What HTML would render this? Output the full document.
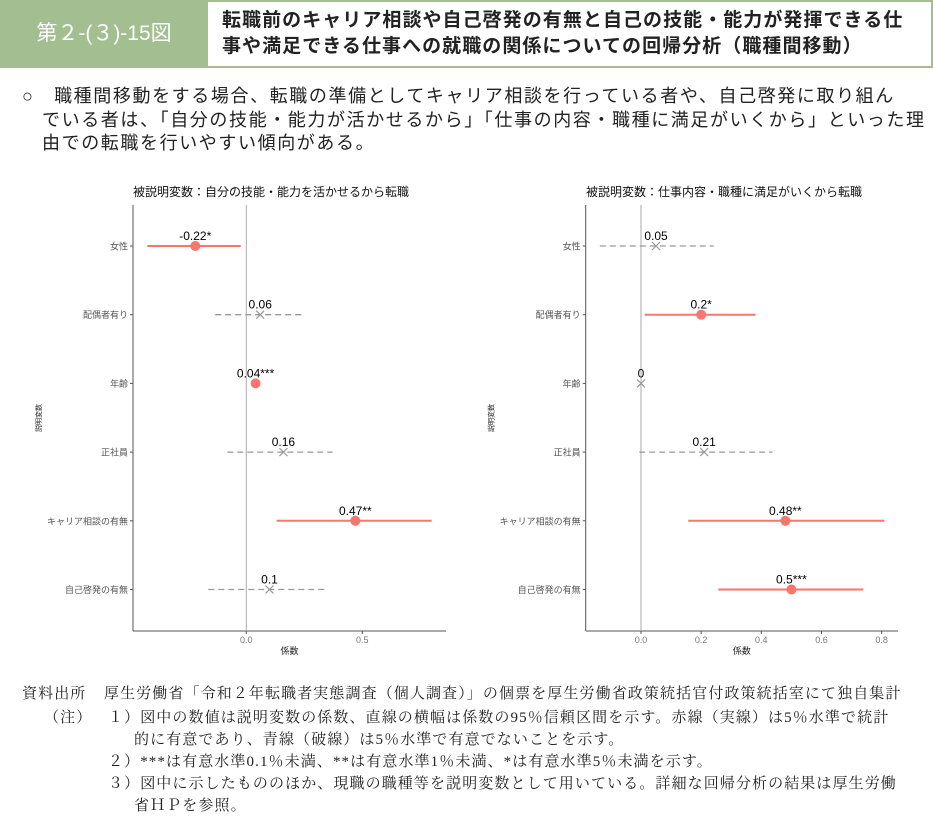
<!DOCTYPE html>
<html><head><meta charset="utf-8">
<style>
body{margin:0;width:933px;height:831px;background:#fff;position:relative;overflow:hidden;font-family:"Liberation Sans","Noto Sans CJK JP",sans-serif;color:#222}
.abs{position:absolute}
#hdr-box{left:0;top:0;width:208px;height:68px;background:#a3bf92;color:#fff;font-size:21px;line-height:68px;text-align:center}
#hdr-title{left:208px;top:0;border:2px solid #a3bf92;border-left:none;box-sizing:border-box;width:725px;height:68px;font-size:19px;font-weight:bold;line-height:26px;padding:6px 0 0 14px;color:#222;letter-spacing:1.05px;white-space:nowrap}
.body{left:22px;font-size:18px;line-height:23.5px;letter-spacing:1.6px;white-space:nowrap}
.foot{font-family:"Liberation Serif","Noto Serif CJK JP",serif;font-size:15px;line-height:22px;left:0;top:683px;width:933px;letter-spacing:1.1px}
.foot div{position:absolute;white-space:nowrap}
</style></head><body>
<div id="hdr-box" class="abs">第２-(３)-15図</div>
<div id="hdr-title" class="abs">転職前のキャリア相談や自己啓発の有無と自己の技能・能力が発揮できる仕<br>事や満足できる仕事への就職の関係についての回帰分析（職種間移動）</div>
<div class="abs body" style="top:85px;width:900px">○　職種間移動をする場合、転職の準備としてキャリア相談を行っている者や、自己啓発に取り組ん<br><span style="padding-left:20px">でいる者は、「自分の技能・能力が活かせるから」「仕事の内容・職種に満足がいくから」といった理</span><br><span style="padding-left:20px">由での転職を行いやすい傾向がある。</span></div>

<svg class="abs" style="left:0;top:0" width="933" height="680" id="charts"></svg>

<div class="abs foot">
<div style="left:22px;top:0">資料出所</div><div style="left:104px;top:0">厚生労働省「令和２年転職者実態調査（個人調査）」の個票を厚生労働省政策統括官付政策統括室にて独自集計</div>
<div style="left:44px;top:24px">（注）</div><div style="left:108px;top:24px">１）図中の数値は説明変数の係数、直線の横幅は係数の95％信頼区間を示す。赤線（実線）は5％水準で統計</div>
<div style="left:134px;top:46px">的に有意であり、青線（破線）は5％水準で有意でないことを示す。</div>
<div style="left:108px;top:68px">２）***は有意水準0.1％未満、**は有意水準1％未満、*は有意水準5％未満を示す。</div>
<div style="left:108px;top:90px">３）図中に示したもののほか、現職の職種等を説明変数として用いている。詳細な回帰分析の結果は厚生労働</div>
<div style="left:134px;top:112px">省ＨＰを参照。</div>
</div>

<script>
const categories=["女性","配偶者有り","年齢","正社員","キャリア相談の有無","自己啓発の有無"];
const leftCoef=[-0.22,0.06,0.04,0.16,0.47,0.1];
const leftLo=[-0.427,-0.134,0.03,-0.082,0.131,-0.164];
const leftHi=[-0.024,0.254,0.05,0.372,0.799,0.339];
const leftLabels=["-0.22*","0.06","0.04***","0.16","0.47**","0.1"];
const leftSig=[true,false,true,false,true,false];
const rightCoef=[0.05,0.2,0,0.21,0.48,0.5];
const rightLo=[-0.137,0.012,-0.003,-0.006,0.157,0.257];
const rightHi=[0.242,0.381,0.003,0.437,0.809,0.739];
const rightLabels=["0.05","0.2*","0","0.21","0.48**","0.5***"];
const rightSig=[false,true,false,false,true,true];
const leftTicks=[0,0.5];const leftTickLabels=["0.0","0.5"];
const rightTicks=[0,0.2,0.4,0.6,0.8];const rightTickLabels=["0.0","0.2","0.4","0.6","0.8"];

const NS="http://www.w3.org/2000/svg";
const svg=document.getElementById('charts');
function mk(tag,attrs,parent){const e=document.createElementNS(NS,tag);for(const k in attrs)e.setAttribute(k,attrs[k]);(parent||svg).appendChild(e);return e;}
const rowY=i=>246+i*68.7;

function chart(cfg){
  const g=mk('g',{});
  
  
  const x=v=>cfg.x0+v*cfg.scale;
  const t=mk('text',{x:cfg.titleX,y:196,'font-size':12,fill:'#111'},g);t.textContent=cfg.title;
  
  
  mk('line',{x1:cfg.axL,y1:205,x2:cfg.axL,y2:631,stroke:'#555','stroke-width':1},g);
  mk('line',{x1:cfg.axL,y1:631,x2:cfg.axR,y2:631,stroke:'#555','stroke-width':1},g);
  mk('line',{x1:x(0),y1:205,x2:x(0),y2:631,stroke:'#aaa','stroke-width':1},g);
  cfg.ticks.forEach((v,i)=>{
    mk('line',{x1:x(v),y1:631,x2:x(v),y2:634,stroke:'#555'},g);
    const tl=mk('text',{x:x(v),y:643,'font-size':9,fill:'#777','text-anchor':'middle'},g);tl.textContent=cfg.tickLabels[i];
    
    
  });
  const xt=mk('text',{x:(cfg.axL+cfg.axR)/2,y:654,'font-size':9,fill:'#222','text-anchor':'middle'},g);xt.textContent='係数';
  
  
  const yt=mk('text',{x:0,y:0,'font-size':7,fill:'#222','text-anchor':'middle',transform:`translate(${cfg.axL-92},418) rotate(-90)`},g);yt.textContent='説明変数';
  
  
  categories.forEach((c,i)=>{
    const y=rowY(i);
    mk('line',{x1:cfg.axL-3,y1:y,x2:cfg.axL,y2:y,stroke:'#555'},g);
    const cl=mk('text',{x:cfg.axL-5,y:y+3.5,'font-size':9,fill:'#555','text-anchor':'end'},g);cl.textContent=c;
    
    
    const v=cfg.coef[i];
    if(cfg.sig[i]){
      const ci=mk('line',{x1:x(cfg.lo[i]),y1:y,x2:x(cfg.hi[i]),y2:y,stroke:'#f8766d','stroke-width':2},g);
      
      
      const p=mk('circle',{cx:x(v),cy:y,r:5,fill:'#f8766d'},g);
      
      
    }else{
      const ci=mk('line',{x1:x(cfg.lo[i]),y1:y,x2:x(cfg.hi[i]),y2:y,stroke:'#999','stroke-width':1.3,'stroke-dasharray':'6,4'},g);
      
      
      const px=x(v);
      const p=mk('path',{d:`M${px-4},${y-4}L${px+4},${y+4}M${px-4},${y+4}L${px+4},${y-4}`,stroke:'#999','stroke-width':1.2,fill:'none'},g);
      
      
    }
    const lb=mk('text',{x:x(v),y:y-6,'font-size':12,fill:'#000','text-anchor':'middle'},g);lb.textContent=cfg.labels[i];
    
    
  });
}
chart({name:'left-chart',title:'被説明変数：自分の技能・能力を活かせるから転職',titleX:133,x0:246.3,scale:232,axL:133,axR:446,coef:leftCoef,lo:leftLo,hi:leftHi,labels:leftLabels,sig:leftSig,ticks:leftTicks,tickLabels:leftTickLabels});
chart({name:'right-chart',title:'被説明変数：仕事内容・職種に満足がいくから転職',titleX:586,x0:641,scale:300.8,axL:585.7,axR:898,coef:rightCoef,lo:rightLo,hi:rightHi,labels:rightLabels,sig:rightSig,ticks:rightTicks,tickLabels:rightTickLabels});
</script>
</body></html>
